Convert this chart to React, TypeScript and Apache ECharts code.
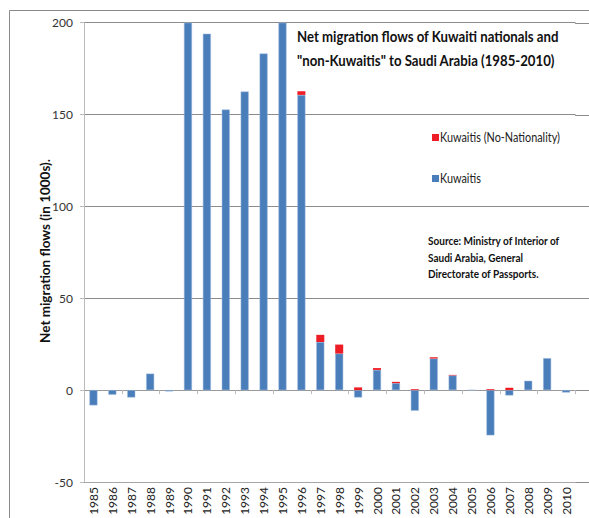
import React, { useEffect, useRef } from "react";
import * as echarts from "echarts";

const years = ["1985","1986","1987","1988","1989","1990","1991","1992","1993","1994","1995","1996","1997","1998","1999","2000","2001","2002","2003","2004","2005","2006","2007","2008","2009","2010"];
const kuwaitis = [-8.3,-2.5,-4,9,-0.7,200,194,152.7,162.5,183.2,200,160.7,26.2,19.9,-4,11,3.8,-11.2,17.2,8,0,-24.6,-2.9,5.1,17.4,-1.3];
const noNationality = [0,0,0,0,0,0,0,0,0,0,0,2,3.9,4.9,1.5,1,0.7,0.5,0.7,0.3,0,0.5,1.3,0,0,0];
const yTicks = [-50, 0, 50, 100, 150, 200];

const titleLines = ["Net migration flows of Kuwaiti nationals and", "\"non-Kuwaitis\" to Saudi Arabia (1985-2010)"];
const yAxisTitle = "Net migration flows (in 1000s).";
const legendNames = ["Kuwaitis (No-Nationality)", "Kuwaitis"];
const sourceLines = ["Source: Ministry of Interior of", "Saudi Arabia, General", "Directorate of Passports."];

const FONT = "Lato, 'Noto Sans', sans-serif";
const BLUE = "#4A7EBB";
const RED = "#EE1C25";

function measure(text: string, font: string): number {
  const c = document.createElement("canvas");
  const ctx = c.getContext("2d")!;
  ctx.font = font;
  return ctx.measureText(text).width;
}

export default function App() {
  const ref = useRef<HTMLDivElement>(null);
  useEffect(() => {
    document.body.style.margin = "0";
    const chart = echarts.init(ref.current!, null, { renderer: "svg" });

    const titleFont = `bold 16px ${FONT}`;
    const titleScale = 262 / measure(titleLines[0], titleFont);
    const legFont = `13.5px ${FONT}`;
    const legScale = 120 / measure(legendNames[0], legFont);
    const srcFont = `bold 11px ${FONT}`;
    const srcScale = 132 / measure(sourceLines[0], srcFont);
    const yTitleFont = `bold 12.5px ${FONT}`;
    const yTitleScale = 184 / measure(yAxisTitle, yTitleFont);

    const option: any = {
      animation: false,
      backgroundColor: "#fff",
      textStyle: { fontFamily: FONT },
      grid: { left: 84, right: 13.5, top: 22.7, bottom: 36 },
      xAxis: [
        {
          type: "category",
          data: years,
          position: "bottom",
          axisLine: { onZero: false, lineStyle: { color: "#a6a6a6" } },
          axisTick: { show: false },
          axisLabel: { rotate: 90, fontSize: 12, color: "#222", fontFamily: FONT, margin: 5 },
        },
        {
          type: "category",
          data: years,
          position: "top",
          axisLine: { onZero: true, lineStyle: { color: "#999" } },
          axisTick: { show: true, inside: true, length: 4, lineStyle: { color: "#bbb" } },
          axisLabel: { show: false },
        },
      ],
      yAxis: {
        type: "value",
        min: yTicks[0],
        max: yTicks[yTicks.length - 1],
        interval: 50,
        axisLine: { show: true, lineStyle: { color: "#bbb" } },
        axisTick: { show: true, length: 4, lineStyle: { color: "#bbb" } },
        axisLabel: { fontSize: 12, color: "#333", fontFamily: FONT, margin: 11 },
        splitLine: { lineStyle: { color: "#8c8c8c" } },
      },
      legend: { show: false },
      series: [
        {
          name: legendNames[1],
          type: "bar",
          stack: "a",
          data: kuwaitis,
          barWidth: 8,
          itemStyle: { color: BLUE, borderColor: "#9db8dc", borderWidth: 0.5 },
        },
        {
          name: legendNames[0],
          type: "bar",
          stack: "a",
          data: noNationality,
          barWidth: 8,
          itemStyle: { color: RED },
        },
      ],
      graphic: [
        { type: "rect", shape: { x: 9.5, y: 10.5, width: 620, height: 600 }, style: { fill: "none", stroke: "#8a8a8a", lineWidth: 1 } },
        { type: "text", x: 297, y: 24, scaleX: titleScale, style: { text: titleLines.join("\n"), font: titleFont, lineHeight: 24, fill: "#111" } },
        { type: "text", x: 45, y: 251, rotation: Math.PI / 2, scaleX: yTitleScale, style: { text: yAxisTitle, font: yTitleFont, fill: "#111", align: "center", verticalAlign: "middle" } },
        { type: "rect", shape: { x: 432, y: 134, width: 7, height: 7 }, style: { fill: RED } },
        { type: "text", x: 440, y: 130, scaleX: legScale, style: { text: legendNames[0], font: legFont, fill: "#222" } },
        { type: "rect", shape: { x: 432, y: 175, width: 7, height: 7 }, style: { fill: BLUE } },
        { type: "text", x: 440, y: 171, scaleX: legScale, style: { text: legendNames[1], font: legFont, fill: "#222" } },
        { type: "text", x: 428, y: 233, scaleX: srcScale, style: { text: sourceLines.join("\n"), font: srcFont, lineHeight: 16.5, fill: "#111" } },
      ],
    };
    chart.setOption(option);
    const x1 = chart.convertToPixel({ xAxisIndex: 0 }, years.length - 1) as number;
    const extra: any[] = [];
    yTicks.forEach((v) => {
      const y = Math.round(chart.convertToPixel({ yAxisIndex: 0 }, v) as number) + 0.5;
      extra.push({ type: "line", shape: { x1: x1 + 9, y1: y, x2: 600, y2: y }, style: { stroke: "#8c8c8c", lineWidth: 1 } });
    });
    chart.setOption({ graphic: [...option.graphic, ...extra] });
    return () => chart.dispose();
  }, []);
  return <div ref={ref} style={{ position: "absolute", left: 0, top: 0, width: 589, height: 518 }} />;
}
